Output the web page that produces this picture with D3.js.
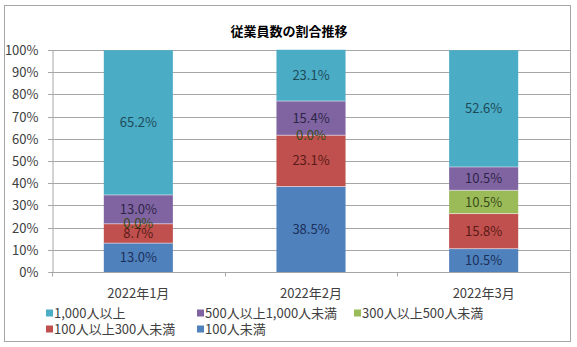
<!DOCTYPE html>
<html>
<head>
<meta charset="utf-8">
<script src="https://cdn.jsdelivr.net/npm/d3@7"></script>
<style>
body{margin:0;background:#fff;}
svg{display:block;font-family:"Noto Sans CJK JP","Noto Sans",sans-serif;}
</style>
</head>
<body>
<svg id="chart" width="577" height="347"></svg>
<script>
const categories = ["2022年1月", "2022年2月", "2022年3月"];
const seriesNames = ["100人未満", "100人以上300人未満", "300人以上500人未満", "500人以上1,000人未満", "1,000人以上"];
const under100 = [13.0, 38.5, 10.5];
const from100to300 = [8.7, 23.1, 15.8];
const from300to500 = [0.0, 0.0, 10.5];
const from500to1000 = [13.0, 15.4, 10.5];
const over1000 = [65.2, 23.1, 52.6];
const yTicks = [0, 10, 20, 30, 40, 50, 60, 70, 80, 90, 100];
const colors = ["#4F81BD", "#C0504D", "#9BBB59", "#8064A2", "#4BACC6"];
const labelColors = ["#1b2f5a", "#5a1a18", "#3a4a1a", "#2e2448", "#1c4b58"];

(function () {
const seriesValues = [under100, from100to300, from300to500, from500to1000, over1000];
const rows = categories.map((c, i) => {
  const r = {cat: c};
  seriesNames.forEach((s, j) => r[s] = seriesValues[j][i]);
  return r;
});
const stacked = d3.stack().keys(seriesNames)(rows);

const svg = d3.select("#chart");
svg.append("rect").attr("x", 4.5).attr("y", 5.5).attr("width", 566).attr("height", 336)
  .attr("fill", "#fff").attr("stroke", "#a6a6a6").attr("stroke-width", 1);

const pLeft = 52, pRight = 570, pTop = 50, pBottom = 272;
const x = d3.scaleBand().domain(categories).range([pLeft, pRight]).paddingInner(0.6).paddingOuter(0.3);
const xb = d3.scaleBand().domain(categories).range([pLeft, pRight]);
const y = d3.scaleLinear().domain([0, 100]).range([pBottom, pTop]);

svg.append("text").attr("x", 289).attr("y", 36).attr("text-anchor", "middle")
  .attr("font-size", 13).attr("font-weight", "bold").attr("fill", "#000").text("従業員数の割合推移");

svg.append("g").selectAll("line").data(yTicks.filter(t => t > 0)).join("line")
  .attr("x1", pLeft - 4).attr("x2", pRight).attr("y1", d => Math.round(y(d)) + 0.5).attr("y2", d => Math.round(y(d)) + 0.5)
  .attr("stroke", "#a6a6a6").attr("stroke-width", 1);

const yAxis = svg.append("g").attr("transform", `translate(${pLeft + 0.5},0)`)
  .call(d3.axisLeft(y).tickValues(yTicks).tickFormat(d => d + "%").tickSize(4).tickPadding(10));
yAxis.select(".domain").attr("stroke", "#a6a6a6");
yAxis.selectAll(".tick line").attr("stroke", "#a6a6a6");
yAxis.selectAll("text").attr("font-size", 13).attr("fill", "#404040")
  .attr("font-family", "'Noto Sans CJK JP','Noto Sans',sans-serif");
yAxis.selectAll(".tick").attr("transform", d => `translate(0,${Math.round(y(d)) + 0.5})`);

const g = svg.append("g");
stacked.forEach((layer, j) => {
  g.append("g").selectAll("rect").data(layer).join("rect")
    .attr("x", d => x(d.data.cat))
    .attr("width", x.bandwidth())
    .attr("y", d => y(d[1]))
    .attr("height", d => Math.max(0, y(d[0]) - y(d[1])))
    .attr("fill", colors[j]);
});
stacked.slice(0, -1).forEach((layer) => {
  g.append("g").selectAll("line").data(layer.filter(d => d[1] - d[0] > 0)).join("line")
    .attr("x1", d => x(d.data.cat)).attr("x2", d => x(d.data.cat) + x.bandwidth())
    .attr("y1", d => y(d[1])).attr("y2", d => y(d[1]))
    .attr("stroke", "#ffffff").attr("stroke-opacity", 0.5).attr("stroke-width", 1);
});

const xAxisG = svg.append("g").attr("transform", `translate(0,${pBottom + 0.5})`);
xAxisG.append("line").attr("x1", pLeft).attr("x2", pRight).attr("stroke", "#a6a6a6");
xAxisG.selectAll(".tk").data(d3.range(categories.length + 1)).join("line")
  .attr("x1", i => Math.round(pLeft + i * xb.step()) + 0.5).attr("x2", i => Math.round(pLeft + i * xb.step()) + 0.5)
  .attr("y1", 0).attr("y2", 4).attr("stroke", "#a6a6a6");
xAxisG.selectAll("text").data(categories).join("text")
  .attr("x", d => xb(d) + xb.bandwidth() / 2).attr("y", 25).attr("text-anchor", "middle")
  .attr("font-size", 13).attr("fill", "#404040").text(d => d);

stacked.forEach((layer, j) => {
  svg.append("g").selectAll("text").data(layer).join("text")
    .attr("x", d => x(d.data.cat) + x.bandwidth() / 2)
    .attr("y", d => y((d[0] + d[1]) / 2))
    .attr("dy", "0.35em")
    .attr("text-anchor", "middle").attr("font-size", 13)
    .attr("fill", labelColors[j])
    .text(d => (d[1] - d[0]).toFixed(1) + "%");
});

const legendItems = [
  {name: "1,000人以上", c: 4, x: 46, y: 313},
  {name: "500人以上1,000人未満", c: 3, x: 197, y: 313},
  {name: "300人以上500人未満", c: 2, x: 354, y: 313},
  {name: "100人以上300人未満", c: 1, x: 46, y: 329},
  {name: "100人未満", c: 0, x: 197, y: 329}
];
const lg = svg.append("g").selectAll("g").data(legendItems).join("g")
  .attr("transform", d => `translate(${d.x},${d.y})`);
lg.append("rect").attr("x", 0).attr("y", -3.5).attr("width", 7).attr("height", 7).attr("fill", d => colors[d.c]);
lg.append("text").attr("x", 8).attr("y", 0).attr("dy", "0.35em").attr("font-size", 13).attr("fill", "#404040").text(d => d.name);
})();
</script>
</body>
</html>
